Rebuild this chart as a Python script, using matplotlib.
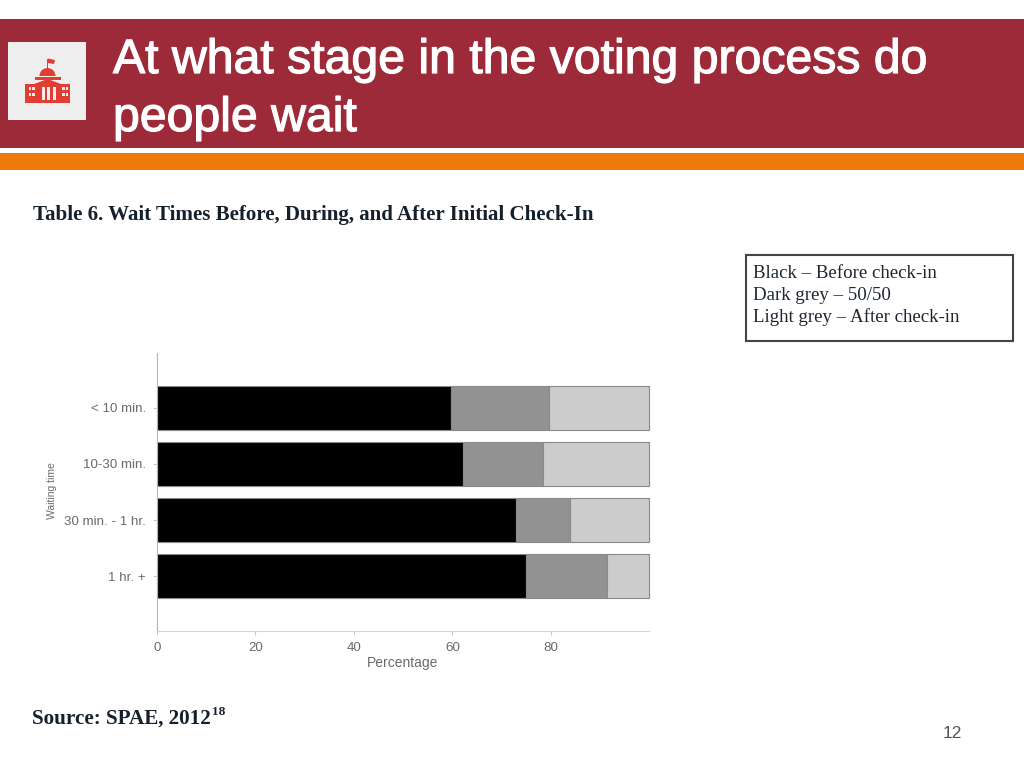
import matplotlib
matplotlib.use('Agg')
import matplotlib.pyplot as plt
import matplotlib.patheffects as pe
from matplotlib.patches import Rectangle, Polygon, Wedge

# values
categories = ['< 10 min.', '10-30 min.', '30 min. - 1 hr.', '1 hr. +']
before = [59.6, 62.2, 72.9, 75.0]
fifty = [20.0, 16.1, 11.0, 16.3]
after = [20.3, 21.6, 16.0, 8.6]
xticks = [0, 20, 40, 60, 80]

title_lines = ['At what stage in the voting process do', 'people wait']
table_title = 'Table 6. Wait Times Before, During, and After Initial Check-In'
legend_lines = ['Black \u2013 Before check-in', 'Dark grey \u2013 50/50', 'Light grey \u2013 After check-in']
source = 'Source: SPAE, 2012'
page = '12'

SANS = 'Liberation Sans'
SERIF = 'Liberation Serif'
ICON = '#e23d33'
BOX = '#eeeeee'

fig = plt.figure(figsize=(10.24, 7.68), dpi=100)

# full page axes in pixel coordinates for the slide furniture
bg = fig.add_axes([0, 0, 1, 1])
bg.set_xlim(0, 1024)
bg.set_ylim(768, 0)
bg.axis('off')

bg.add_patch(Rectangle((0, 19), 1024, 129, color='#9c2a38', lw=0))
bg.add_patch(Rectangle((0, 153), 1024, 17, color='#ee7a0c', lw=0))
bg.add_patch(Rectangle((8, 42), 78, 78, color=BOX, lw=0))

# little capitol building
bg.add_patch(Wedge((47.5, 76), 8, 180, 360, color=ICON, lw=0))
bg.add_patch(Rectangle((47, 59), 1.2, 9, color=ICON, lw=0))
bg.add_patch(Polygon([(48, 58.5), (55, 60), (54, 64), (48, 63)], color=ICON, lw=0))
bg.add_patch(Rectangle((35, 77), 26, 3, color=ICON, lw=0))
bg.add_patch(Polygon([(34, 84), (47.5, 79), (61, 84)], color=ICON, lw=0))
bg.add_patch(Rectangle((25, 83.5), 45, 19.5, color=ICON, lw=0))
for x in [41.5, 47, 52.5]:
    bg.add_patch(Rectangle((x, 86.5), 3, 13, color=BOX, lw=0))
for x in [28.5, 32, 62, 65.5]:
    for y in [86.5, 93]:
        bg.add_patch(Rectangle((x, y), 2.6, 3.4, color=BOX, lw=0))

# title, slightly thickened like the doubled text on the slide
for i, line in enumerate(title_lines):
    bg.text(113, 73 + 58 * i, line, color='white', fontsize=34.7, family=SANS,
            va='baseline', ha='left',
            path_effects=[pe.withStroke(linewidth=0.9, foreground='white')])

bg.text(33, 215, table_title, fontsize=15.1, family=SERIF, weight='bold',
        color='#14202c', va='center', ha='left')

# legend box
bg.add_patch(Rectangle((746, 255), 267, 86, fc='white', ec='#444444', lw=1.5))
for i, line in enumerate(legend_lines):
    bg.text(753, 273 + 22 * i, line, fontsize=13.6, family=SERIF, color='#1c2630',
            va='center', ha='left')

bg.text(32, 719, source, fontsize=15.2, family=SERIF, weight='bold',
        color='#14202c', va='center', ha='left')
bg.text(212, 712, '18', fontsize=9.5, family=SERIF, weight='bold',
        color='#14202c', va='center', ha='left')
bg.text(943, 733, page, fontsize=12.5, family=SANS, color='#555555', va='center', ha='left')

# the chart itself
ax = fig.add_axes([157 / 1024, 1 - 631 / 768, 492 / 1024, 278 / 768])
ypos = list(range(len(categories)))
h = 0.786
edge = '#8a8a8a'
ax.barh(ypos, before, height=h, color='black', edgecolor=edge, linewidth=0.8, clip_on=False)
lefts = before
ax.barh(ypos, fifty, height=h, left=lefts, color='#929292', edgecolor=edge, linewidth=0.8, clip_on=False)
lefts = [a + b for a, b in zip(before, fifty)]
ax.barh(ypos, after, height=h, left=lefts, color='#cccccc', edgecolor=edge, linewidth=0.8, clip_on=False)

ax.set_xlim(0, 99.9)
ax.set_ylim(3.98, -0.98)
ax.set_yticks(ypos)
ax.set_yticklabels(categories)
ax.set_xticks(xticks)
ax.tick_params(axis='both', labelsize=9.6, labelcolor='#6a6a6a', color='#c8c8c8',
               length=3, width=0.8)
ax.tick_params(axis='x', pad=5)
ax.tick_params(axis='y', pad=5)
for lab in ax.get_xticklabels() + ax.get_yticklabels():
    lab.set_family(SANS)
for side in ['top', 'right']:
    ax.spines[side].set_visible(False)
ax.spines['left'].set_color('#b4b4b4')
ax.spines['bottom'].set_color('#d4d4d4')
ax.set_xlabel('Percentage', fontsize=10, color='#6a6a6a', family=SANS, labelpad=1)
bg.text(52, 491, 'Waiting time', fontsize=7.5, color='#6a6a6a', family=SANS,
        rotation=90, va='center', ha='center')

fig.savefig('out.png', dpi=100)
